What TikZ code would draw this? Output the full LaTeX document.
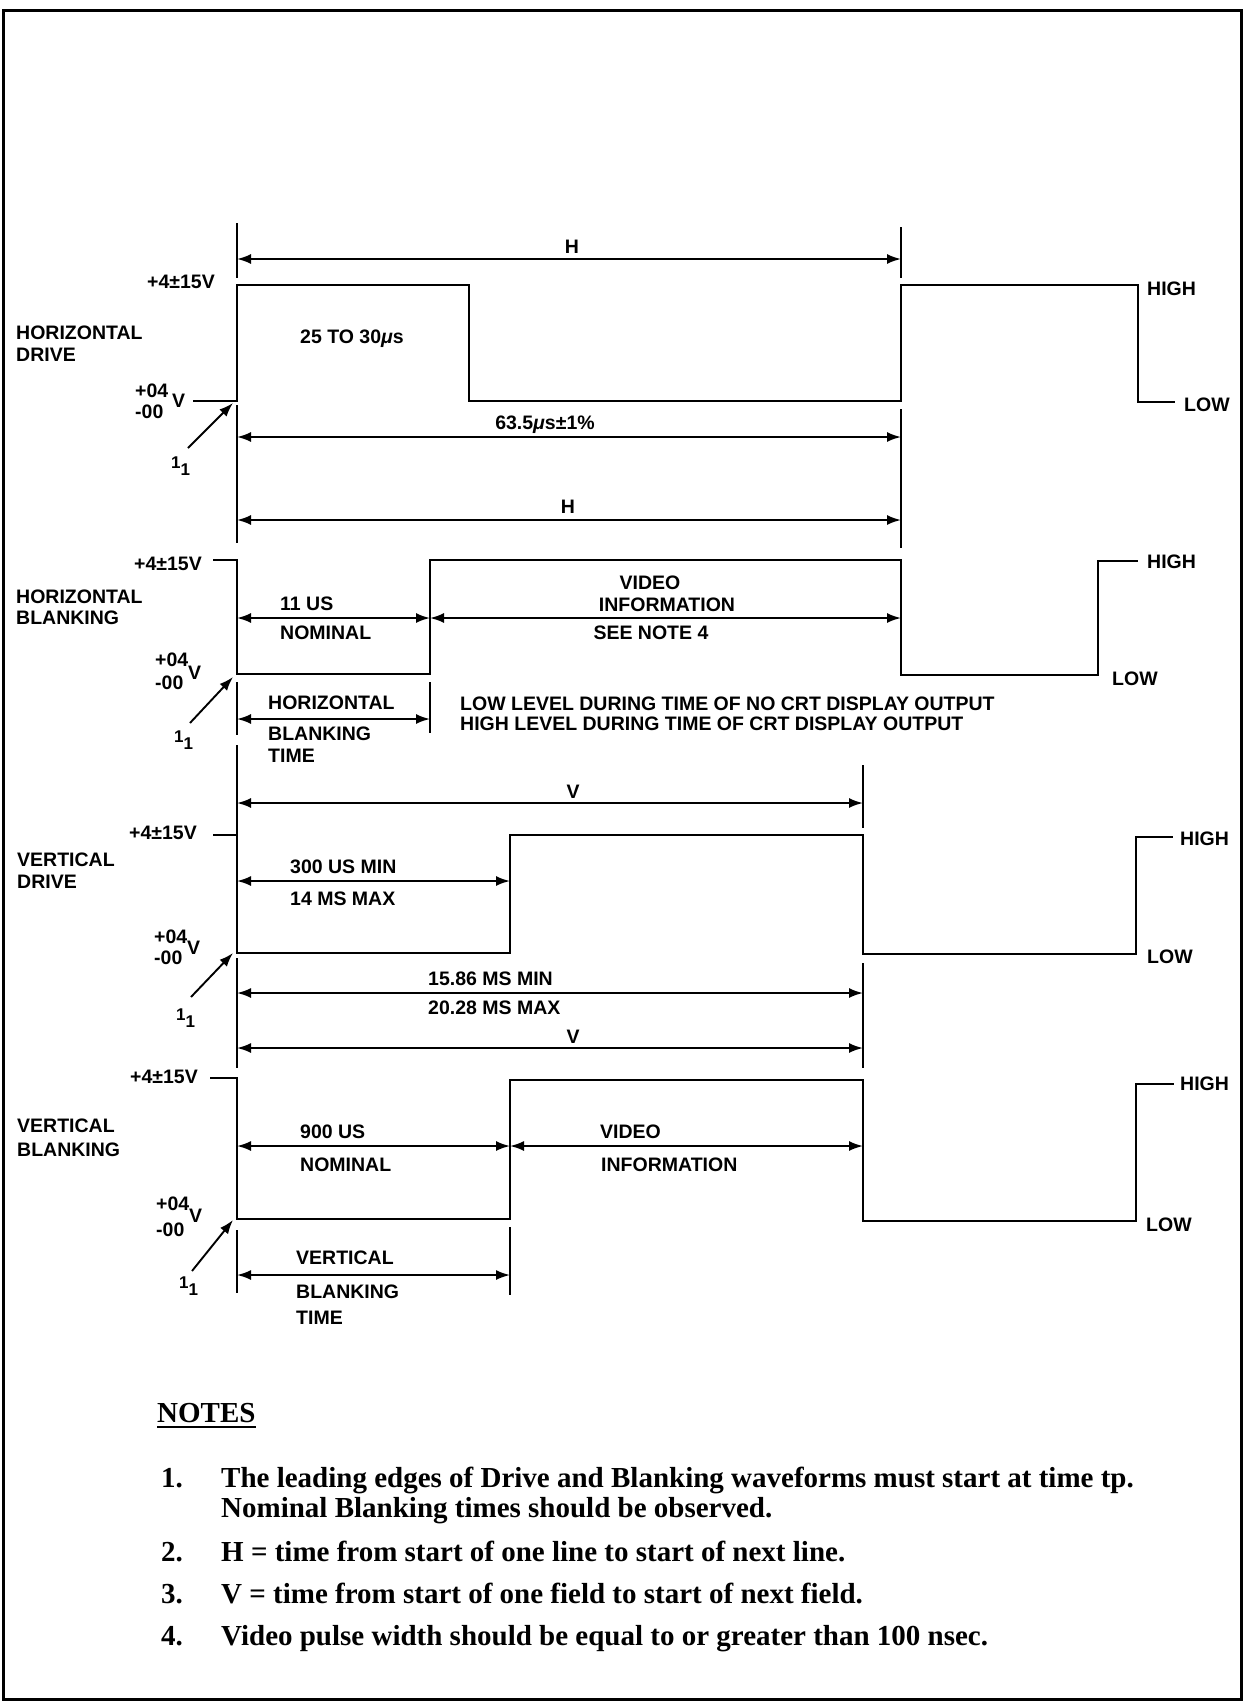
\documentclass[tikz,border=0pt]{standalone}
\usepackage{fontspec}
\setmainfont{Liberation Serif}
\newfontfamily\labfam{Liberation Sans}
\usetikzlibrary{arrows.meta}
\tikzset{
 wave/.style={line width=2.3pt, line join=miter},
 tickline/.style={line width=2.1pt},
 dimline/.style={line width=1.9pt, {Latex[length=14pt,width=10pt]}-{Latex[length=14pt,width=10pt]}},
 ptr/.style={line width=1.9pt, -{Latex[length=14pt,width=10pt]}},
 lab/.style={font=\labfam\bfseries\fontsize{19.5}{22}\selectfont, inner sep=0pt, text height=13.8pt, text depth=0pt},
 labw/.style={lab, anchor=west},
 labe/.style={lab, anchor=east},
 labc/.style={lab, anchor=center},
 subl/.style={font=\labfam\bfseries\fontsize{17}{19}\selectfont, inner sep=0pt, anchor=west, text height=12pt, text depth=0pt},
 note/.style={font=\bfseries\fontsize{29}{34}\selectfont, inner sep=0pt, anchor=base west},
}
\begin{document}
\begin{tikzpicture}[x=1pt,y=-1pt]
\useasboundingbox (0,0) rectangle (1244,1702);
\draw[line width=3pt] (3,11) rectangle (1241,1699);

% ---------------- HORIZONTAL DRIVE ----------------
\coordinate (hdA1) at (237,259); \coordinate (hdB1) at (901,259);
\coordinate (hdA2) at (237,437); \coordinate (hdB2) at (901,437);
\coordinate (hdA3) at (237,520); \coordinate (hdB3) at (901,520);
\draw[tickline] (237,223) -- (237,278);
\draw[tickline] (901,227) -- (901,278);
\draw[tickline] (237,405) -- (237,543);
\draw[tickline] (901,409) -- (901,548);
\draw[wave] (193,401) -- (237,401) -- (237,285) -- (469,285) -- (469,401) -- (901,401) -- (901,285) -- (1138,285) -- (1138,402) -- (1175,402);
\draw[dimline] (hdA1) -- (hdB1);
\draw[dimline] (hdA2) -- (hdB2);
\draw[dimline] (hdA3) -- (hdB3);
\node[labc] (hdH1) at (572,247) {H};
\node[labc] (hdT) at (545,423) {63.5{\itshape μ}s±1\%};
\node[labc] (hdH2) at (568,507) {H};
\node[labe] (hdhi) at (215,282) {+4±15V};
\node[labw] (hdname1) at (16,333) {HORIZONTAL};
\node[labw] (hdname2) at (16,355) {DRIVE};
\node[labc] (hdw) at (352,337) {25 TO 30{\itshape μ}s};
\node[labw] (hdp) at (135,391) {+04};
\node[labw] (hdm) at (135,412) {-00};
\node[labw] (hdv) at (172,401) {V};
\coordinate (hdc) at (233,403);
\node[subl] (hdt) at (171,462) {1\raisebox{-7pt}{1}};
\draw[ptr] (188,448) -- (hdc);
\node[labw] (hdHIGH) at (1147,289) {HIGH};
\node[labw] (hdLOW) at (1184,405) {LOW};

% ---------------- HORIZONTAL BLANKING ----------------
\coordinate (hbA1) at (237,618); \coordinate (hbM1) at (430,618); \coordinate (hbB1) at (901,618);
\coordinate (hbA2) at (237,719); \coordinate (hbM2) at (430,719);
\draw[tickline] (237,682) -- (237,735);
\draw[tickline] (430,682) -- (430,733);
\draw[wave] (213,560) -- (237,560) -- (237,674) -- (430,674) -- (430,560) -- (901,560) -- (901,675) -- (1098,675) -- (1098,561) -- (1138,561);
\draw[dimline] (hbA1) -- (hbM1);
\draw[dimline] (hbM1) -- (hbB1);
\draw[dimline] (hbA2) -- (hbM2);
\node[labe] (hbhi) at (202,564) {+4±15V};
\node[labw] (hbname1) at (16,597) {HORIZONTAL};
\node[labw] (hbname2) at (16,618) {BLANKING};
\node[labw] (hb11) at (280,604) {11 US};
\node[labw] (hbnom) at (280,633) {NOMINAL};
\node[labc] (hbvid) at (650,583) {VIDEO};
\node[labc] (hbinf) at (667,605) {INFORMATION};
\node[labc] (hbsee) at (651,633) {SEE NOTE 4};
\node[labw] (hbp) at (155,660) {+04};
\node[labw] (hbm) at (155,683) {-00};
\node[labw] (hbv) at (188,673) {V};
\coordinate (hbc) at (233,677);
\node[subl] (hbt) at (174,736) {1\raisebox{-7pt}{1}};
\draw[ptr] (190,723) -- (hbc);
\node[labw] (hbt1) at (268,703) {HORIZONTAL};
\node[labw] (hbt2) at (268,734) {BLANKING};
\node[labw] (hbt3) at (268,756) {TIME};
\node[labw] (hbl1) at (460,704) {LOW LEVEL DURING TIME OF NO CRT DISPLAY OUTPUT};
\node[labw] (hbl2) at (460,724) {HIGH LEVEL DURING TIME OF CRT DISPLAY OUTPUT};
\node[labw] (hbHIGH) at (1147,562) {HIGH};
\node[labw] (hbLOW) at (1112,679) {LOW};

% ---------------- VERTICAL DRIVE ----------------
\coordinate (vdA1) at (237,803); \coordinate (vdB1) at (863,803);
\coordinate (vdA2) at (237,881); \coordinate (vdM2) at (510,881);
\coordinate (vdA3) at (237,993); \coordinate (vdB3) at (863,993);
\coordinate (vdA4) at (237,1048); \coordinate (vdB4) at (863,1048);
\draw[tickline] (237,745) -- (237,835);
\draw[tickline] (863,765) -- (863,828);
\draw[tickline] (237,958) -- (237,1068);
\draw[tickline] (863,963) -- (863,1068);
\draw[wave] (213,835) -- (237,835) -- (237,953) -- (510,953) -- (510,835) -- (863,835) -- (863,954) -- (1136,954) -- (1136,837) -- (1173,837);
\draw[dimline] (vdA1) -- (vdB1);
\draw[dimline] (vdA2) -- (vdM2);
\draw[dimline] (vdA3) -- (vdB3);
\draw[dimline] (vdA4) -- (vdB4);
\node[labc] (vdV1) at (573,792) {V};
\node[labc] (vdV2) at (573,1037) {V};
\node[labe] (vdhi) at (197,833) {+4±15V};
\node[labw] (vdname1) at (17,860) {VERTICAL};
\node[labw] (vdname2) at (17,882) {DRIVE};
\node[labw] (vd300) at (290,867) {300 US MIN};
\node[labw] (vd14) at (290,899) {14 MS MAX};
\node[labw] (vd15) at (428,979) {15.86 MS MIN};
\node[labw] (vd20) at (428,1008) {20.28 MS MAX};
\node[labw] (vdp) at (154,937) {+04};
\node[labw] (vdm) at (154,958) {-00};
\node[labw] (vdv) at (187,948) {V};
\coordinate (vdc) at (233,953);
\node[subl] (vdt) at (176,1014) {1\raisebox{-7pt}{1}};
\draw[ptr] (191,997) -- (vdc);
\node[labw] (vdHIGH) at (1180,839) {HIGH};
\node[labw] (vdLOW) at (1147,957) {LOW};

% ---------------- VERTICAL BLANKING ----------------
\coordinate (vbA1) at (237,1146); \coordinate (vbM1) at (510,1146); \coordinate (vbB1) at (863,1146);
\coordinate (vbA2) at (237,1275); \coordinate (vbM2) at (510,1275);
\draw[tickline] (237,1230) -- (237,1293);
\draw[tickline] (510,1227) -- (510,1295);
\draw[wave] (210,1078) -- (237,1078) -- (237,1219) -- (510,1219) -- (510,1080) -- (863,1080) -- (863,1221) -- (1136,1221) -- (1136,1084) -- (1174,1084);
\draw[dimline] (vbA1) -- (vbM1);
\draw[dimline] (vbM1) -- (vbB1);
\draw[dimline] (vbA2) -- (vbM2);
\node[labe] (vbhi) at (198,1077) {+4±15V};
\node[labw] (vbname1) at (17,1126) {VERTICAL};
\node[labw] (vbname2) at (17,1150) {BLANKING};
\node[labw] (vb900) at (300,1132) {900 US};
\node[labw] (vbnom) at (300,1165) {NOMINAL};
\node[labw] (vbvid) at (600,1132) {VIDEO};
\node[labw] (vbinf) at (601,1165) {INFORMATION};
\node[labw] (vbp) at (156,1204) {+04};
\node[labw] (vbm) at (156,1230) {-00};
\node[labw] (vbv) at (189,1216) {V};
\coordinate (vbc) at (233,1220);
\node[subl] (vbt) at (179,1282) {1\raisebox{-7pt}{1}};
\draw[ptr] (192,1271) -- (vbc);
\node[labw] (vbt1) at (296,1258) {VERTICAL};
\node[labw] (vbt2) at (296,1292) {BLANKING};
\node[labw] (vbt3) at (296,1318) {TIME};
\node[labw] (vbHIGH) at (1180,1084) {HIGH};
\node[labw] (vbLOW) at (1146,1225) {LOW};

% ---------------- NOTES ----------------
\node[note] (notes) at (157,1422) {NOTES};
\draw[line width=1.6pt] ([yshift=-5pt]notes.base west) -- ([yshift=-5pt]notes.base east);
\node[note] (n1) at (161,1487) {1.};
\node[note] (n1t) at (221,1487) {The leading edges of Drive and Blanking waveforms must start at time tp.};
\node[note] (n1u) at (221,1517) {Nominal Blanking times should be observed.};
\node[note] (n2) at (161,1561) {2.};
\node[note] (n2t) at (221,1561) {H = time from start of one line to start of next line.};
\node[note] (n3) at (161,1603) {3.};
\node[note] (n3t) at (221,1603) {V = time from start of one field to start of next field.};
\node[note] (n4) at (161,1645) {4.};
\node[note] (n4t) at (221,1645) {Video pulse width should be equal to or greater than 100 nsec.};
\end{tikzpicture}
\end{document}
